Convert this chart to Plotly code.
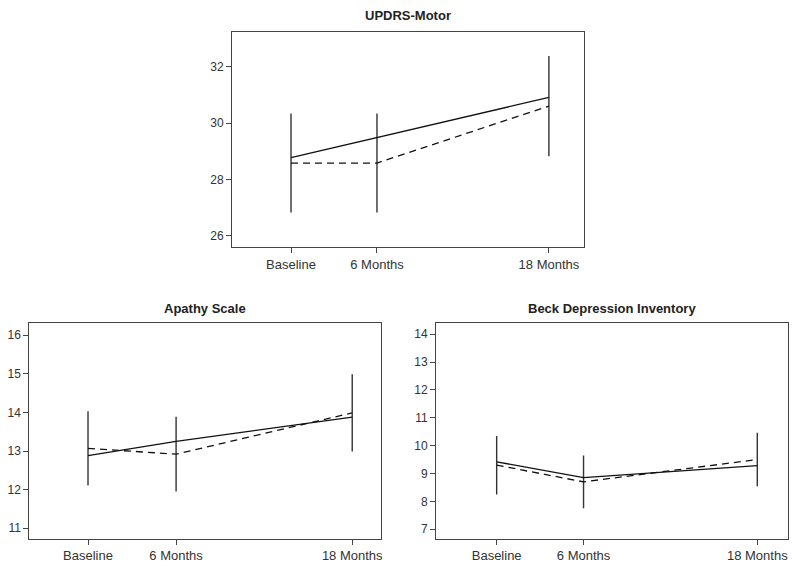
import plotly.graph_objects as go

months = [0, 6, 18]
tick_labels = ["Baseline", "6 Months", "18 Months"]

# UPDRS-Motor
updrs_solid = [28.77, 29.49, 30.91]
updrs_dashed = [28.58, 28.58, 30.60]
updrs_err = [1.76, 1.76, 1.78]

# Apathy Scale
apathy_solid = [12.88, 13.25, 13.88]
apathy_dashed = [13.07, 12.92, 13.99]
apathy_err = [0.96, 0.97, 1.0]

# Beck Depression Inventory
beck_solid = [9.42, 8.85, 9.28]
beck_dashed = [9.30, 8.70, 9.50]
beck_err = [1.05, 0.95, 0.96]

titles = ["UPDRS-Motor", "Apathy Scale", "Beck Depression Inventory"]

W, H, OFF = 800, 568, 8  # page body margin offset


def px(xp):
    return (xp - OFF) / W


def py(yp):
    return 1 - (yp - OFF) / H


fig = go.Figure()

panels = [
    ("x", "y", updrs_solid, updrs_dashed, updrs_err),
    ("x2", "y2", apathy_solid, apathy_dashed, apathy_err),
    ("x3", "y3", beck_solid, beck_dashed, beck_err),
]

for xa, ya, solid, dashed, err in panels:
    fig.add_trace(go.Scatter(
        x=months, y=dashed, mode="lines", xaxis=xa, yaxis=ya,
        line=dict(color="#111", width=1.3, dash="7px,5px"),
        error_y=dict(type="data", array=err, visible=True, width=0,
                     thickness=1.4, color="#333"),
        showlegend=False, hoverinfo="skip"))
    fig.add_trace(go.Scatter(
        x=months, y=solid, mode="lines", xaxis=xa, yaxis=ya,
        line=dict(color="#111", width=1.3),
        showlegend=False, hoverinfo="skip"))

base = dict(showline=True, mirror=True, linecolor="#444", linewidth=1,
            showgrid=False, zeroline=False, ticks="outside", ticklen=5,
            automargin=False, tickcolor="#444")
xax = dict(base, tickfont=dict(family="Liberation Sans, Arial", size=13, color="#333"))
yax = dict(base, tickfont=dict(family="Liberation Sans, Arial", size=12, color="#333"))

fig.update_layout(
    width=W, height=H,
    margin=dict(l=0, r=0, t=0, b=0, autoexpand=False),
    plot_bgcolor="white", paper_bgcolor="white",
    xaxis=dict(domain=[px(232), px(584)], range=[-4.12, 20.45], anchor="y",
               tickvals=months, ticktext=tick_labels, **xax),
    yaxis=dict(domain=[py(247), py(32)], range=[25.6, 33.23], anchor="x",
               tickvals=[26, 28, 30, 32], **yax),
    xaxis2=dict(domain=[px(29.3), px(381)], range=[-4.0, 19.96], anchor="y2",
                tickvals=months, ticktext=tick_labels, **xax),
    yaxis2=dict(domain=[py(538.7), py(323.3)], range=[10.73, 16.31], anchor="x2",
                tickvals=[11, 12, 13, 14, 15, 16], **yax),
    xaxis3=dict(domain=[px(436), px(787.7)], range=[-4.19, 20.1], anchor="y3",
                tickvals=months, ticktext=tick_labels, **xax),
    yaxis3=dict(domain=[py(538.7), py(323.3)], range=[6.66, 14.39], anchor="x3",
                tickvals=[7, 8, 9, 10, 11, 12, 13, 14], **yax),
)

title_font = dict(family="Liberation Sans, Arial", size=13, color="#222")
for txt, xc, yc in [(titles[0], 408, 15), (titles[1], 205, 308), (titles[2], 612, 308)]:
    fig.add_annotation(text="<b>" + txt + "</b>", x=px(xc), y=py(yc),
                       xref="paper", yref="paper", showarrow=False,
                       xanchor="center", yanchor="middle", font=title_font)

fig.write_html("out.html")
